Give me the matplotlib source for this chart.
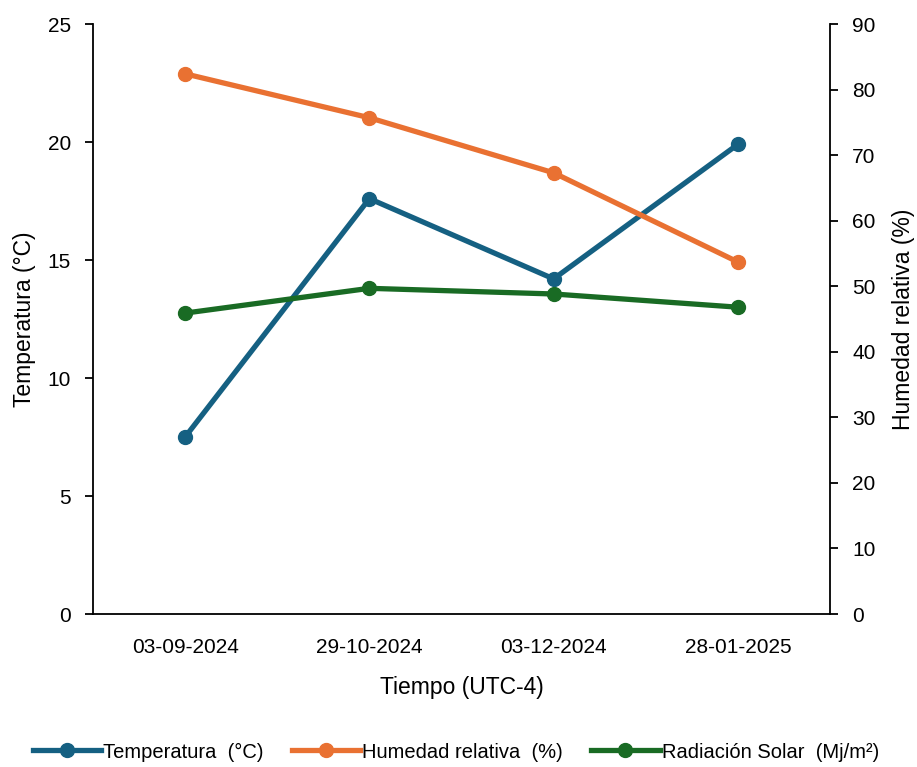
import matplotlib
matplotlib.use("Agg")
import matplotlib.pyplot as plt
import numpy as np

categories = ["03-09-2024", "29-10-2024", "03-12-2024", "28-01-2025"]
temperatura = [7.5, 17.6, 14.2, 19.9]
humedad = [82.4, 75.7, 67.3, 53.7]
radiacion = [12.75, 13.8, 13.56, 13.0]

c_temp = "#156082"
c_hum = "#E97132"
c_rad = "#196B24"

plt.rcParams['font.family'] = ['Liberation Sans', 'DejaVu Sans']

fig = plt.figure(figsize=(9.17, 7.67), dpi=100)
ax = fig.add_axes([93/917, 1-614/767, (830-93)/917, (614-24)/767])
ax2 = ax.twinx()

x = np.arange(len(categories))
lw = 3.8
ms = 10

l1, = ax.plot(x, temperatura, color=c_temp, lw=lw, marker='o', ms=ms, label="Temperatura  (°C)", zorder=3)
l3, = ax.plot(x, radiacion, color=c_rad, lw=lw, marker='o', ms=ms, label="Radiación Solar  (Mj/m²)", zorder=3)
l2, = ax2.plot(x, humedad, color=c_hum, lw=lw, marker='o', ms=ms, label="Humedad relativa  (%)", zorder=3)

ax.set_xlim(-0.5, 3.5)
ax.set_ylim(0, 25)
ax.set_yticks(np.arange(0, 26, 5))
ax2.set_ylim(0, 90)
ax2.set_yticks(np.arange(0, 91, 10))
ax.set_xticks(x)
ax.set_xticklabels(categories)

for a in (ax, ax2):
    a.spines['top'].set_visible(False)
    for s in a.spines.values():
        s.set_linewidth(1.3)
        s.set_color('black')
    a.tick_params(axis='both', labelsize=15, width=1.3, length=6, colors='black')
ax.spines['right'].set_visible(False)
ax2.spines['left'].set_visible(False)
ax2.spines['bottom'].set_visible(False)
ax.tick_params(axis='x', length=0, pad=17)
ax.tick_params(axis='y', pad=10)
ax2.tick_params(axis='y', pad=10)

ax.set_ylabel("Temperatura (°C)", fontsize=16.5, labelpad=8)
ax2.set_ylabel("Humedad relativa (%)", fontsize=16.5, labelpad=12)
ax.set_xlabel("Tiempo (UTC-4)", fontsize=16.5, labelpad=14)

leg_font = {'family': ['Liberation Sans', 'DejaVu Sans'], 'size': 14.5}
fig.legend([l1, l2, l3], [l1.get_label(), l2.get_label(), l3.get_label()],
           loc='center', bbox_to_anchor=(0.497, 1-752/767), ncol=3, frameon=False,
           prop=leg_font, handlelength=3.4, handletextpad=0.1, columnspacing=1.4,
           borderaxespad=0)

fig.savefig("out.png", dpi=100)
